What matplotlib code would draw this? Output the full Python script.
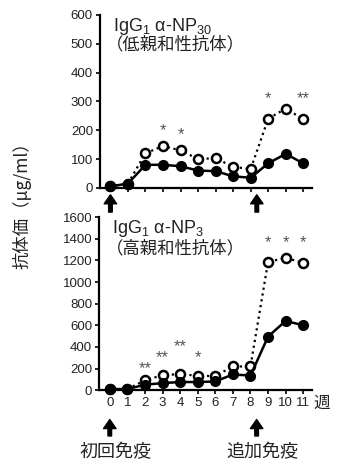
import numpy as np
import matplotlib
matplotlib.use('Agg')
import matplotlib.pyplot as plt

plt.rcParams['font.family'] = ['Liberation Sans', 'Noto Sans CJK JP', 'DejaVu Sans']
plt.rcParams['mathtext.fontset'] = 'custom'
plt.rcParams['mathtext.rm'] = 'Liberation Sans'
plt.rcParams['mathtext.it'] = 'Liberation Sans:italic'

# データ (週)
weeks = np.arange(12)
week_labels = [str(w) for w in weeks]

# 上段: IgG1 α-NP30 (低親和性抗体)
np30_filled = [5, 15, 80, 80, 75, 60, 58, 40, 35, 85, 118, 85]
np30_open = [5, 15, 120, 145, 130, 100, 103, 73, 65, 240, 275, 238]
np30_star_x = [3, 4, 9, 11]
np30_star_y = [200, 183, 310, 310]
np30_star_txt = ['*', '*', '*', '**']

# 下段: IgG1 α-NP3 (高親和性抗体)
np3_filled = [10, 10, 50, 65, 75, 75, 80, 145, 135, 495, 640, 600]
np3_open = [10, 10, 90, 139, 148, 133, 130, 219, 219, 1185, 1225, 1175]
np3_star_x = [2, 3, 4, 5, 9, 10, 11]
np3_star_y = [195, 305, 405, 305, 1360, 1360, 1360]
np3_star_txt = ['**', '**', '**', '*', '*', '*', '*']

immun_x = [0, 8.35]
immun_labels = ['初回免疫', '追加免疫']

txt_c = '#222222'
cjk = ['Noto Sans CJK JP', 'DejaVu Sans']

fig = plt.figure(figsize=(3.41, 4.65), dpi=100)
ax1 = fig.add_axes([0.293, 0.596, 0.622, 0.372])
ax2 = fig.add_axes([0.291, 0.161, 0.624, 0.372])


def draw(ax, filled, opened, ymax, ystep, sx, sy, st):
    ax.plot(weeks, opened, ls=':', lw=1.6, color='black', marker='o', ms=6.5,
            mfc='white', mec='black', mew=1.8, clip_on=False, zorder=3)
    ax.plot(weeks, filled, ls='-', lw=1.8, color='black', marker='o', ms=7,
            mfc='black', mec='black', clip_on=False, zorder=4)
    for x, y, t in zip(sx, sy, st):
        ax.text(x, y, t, ha='center', va='center', fontsize=12, color='#555555')
    ax.set_xlim(-0.6, 11.5)
    ax.set_ylim(0, ymax)
    ax.set_yticks(np.arange(0, ymax + 1, ystep))
    ax.set_xticks(weeks)
    ax.spines['top'].set_visible(False)
    ax.spines['right'].set_visible(False)
    ax.spines['left'].set_linewidth(1.6)
    ax.spines['bottom'].set_linewidth(1.6)
    ax.tick_params(axis='both', direction='out', length=3, width=1.2,
                   labelsize=9.5, labelcolor=txt_c, pad=2)


draw(ax1, np30_filled, np30_open, 600, 100, np30_star_x, np30_star_y, np30_star_txt)
draw(ax2, np3_filled, np3_open, 1600, 200, np3_star_x, np3_star_y, np3_star_txt)

ax1.set_xticklabels([])
ax2.set_xticklabels(week_labels)
ax2.text(11.6, -0.075, '週', transform=ax2.get_xaxis_transform(),
         ha='left', va='center', fontsize=12, color=txt_c, family=cjk)

ax1.text(0.06, 0.995, 'IgG$_1$ α-NP$_{30}$', transform=ax1.transAxes,
         ha='left', va='top', fontsize=13, color=txt_c)
ax1.text(0.03, 0.88, '（低親和性抗体）', transform=ax1.transAxes,
         ha='left', va='top', fontsize=12.5, color=txt_c, family=cjk)
ax2.text(0.06, 0.995, 'IgG$_1$ α-NP$_3$', transform=ax2.transAxes,
         ha='left', va='top', fontsize=13, color=txt_c)
ax2.text(0.03, 0.87, '（高親和性抗体）', transform=ax2.transAxes,
         ha='left', va='top', fontsize=12.5, color=txt_c, family=cjk)

arrow = dict(facecolor='black', edgecolor='black', width=2.6, headwidth=9,
             headlength=6.5, shrink=0)
for x in immun_x:
    ax1.annotate('', xy=(x, -0.04), xytext=(x, -0.14),
                 xycoords=ax1.get_xaxis_transform(),
                 textcoords=ax1.get_xaxis_transform(),
                 arrowprops=arrow, annotation_clip=False)
    ax2.annotate('', xy=(x, -0.17), xytext=(x, -0.265),
                 xycoords=ax2.get_xaxis_transform(),
                 textcoords=ax2.get_xaxis_transform(),
                 arrowprops=arrow, annotation_clip=False)
for x, lab in zip(immun_x, immun_labels):
    ax2.text(x + 0.3, -0.36, lab, transform=ax2.get_xaxis_transform(),
             ha='center', va='center', fontsize=13, color=txt_c, family=cjk)

fig.text(0.065, 0.568, '抗体価（μg/ml）', rotation=90, ha='center', va='center',
         fontsize=12.5, color=txt_c, family=cjk)

fig.savefig('out.png', dpi=100)
